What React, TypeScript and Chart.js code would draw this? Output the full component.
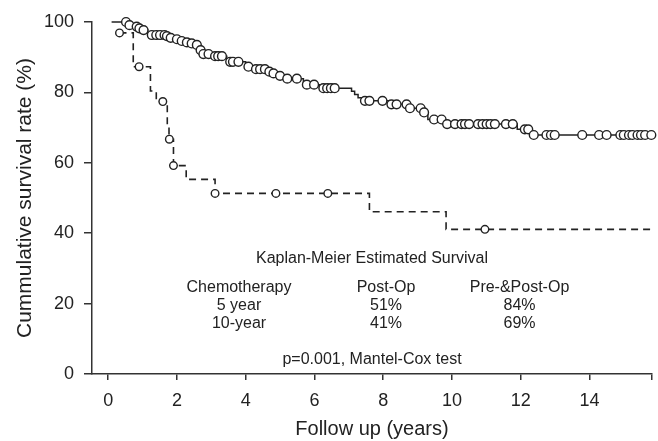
import React, { useEffect, useRef } from "react";
import { Chart, registerables } from "chart.js";

Chart.register(...registerables);

// Pre-&Post-Op chemotherapy (solid line): step times and survival after each step
const prePostStepTimes = [0.1, 0.58, 0.75, 0.88, 0.98, 1.15, 1.68, 1.78, 1.94, 2.1, 2.24, 2.38, 2.53, 2.64, 2.74, 3.05, 3.45, 4.0, 4.2, 4.63, 4.76, 4.93, 5.12, 5.68, 6.15, 7.08, 7.17, 7.27, 7.37, 8.15, 8.75, 9.14, 9.3, 9.8, 11.9, 12.3];
const prePostStepValues = [100, 99.1, 98.7, 98.2, 97.7, 96.3, 96.0, 95.5, 95.1, 94.6, 94.2, 93.9, 93.5, 92.0, 90.9, 90.3, 88.7, 87.3, 86.6, 85.9, 85.4, 84.7, 83.9, 82.2, 81.2, 80.3, 79.4, 78.5, 77.6, 76.6, 75.5, 74.3, 72.3, 71.0, 69.5, 67.9];
const prePostEnd = 15.8;
const prePostCensored = [0.52, 0.62, 0.83, 0.91, 1.03, 1.27, 1.4, 1.51, 1.64, 1.71, 1.82, 2.0, 2.14, 2.29, 2.43, 2.58, 2.69, 2.77, 2.92, 3.11, 3.2, 3.31, 3.55, 3.63, 3.79, 4.08, 4.3, 4.42, 4.56, 4.69, 4.81, 5.0, 5.21, 5.49, 5.78, 5.99, 6.26, 6.37, 6.48, 6.59, 7.47, 7.6, 7.98, 8.24, 8.39, 8.68, 8.78, 9.09, 9.19, 9.48, 9.7, 9.86, 10.09, 10.28, 10.38, 10.5, 10.76, 10.89, 11.01, 11.12, 11.25, 11.57, 11.77, 12.12, 12.22, 12.38, 12.75, 12.88, 12.99, 13.79, 14.28, 14.5, 14.9, 15.0, 15.15, 15.25, 15.4, 15.5, 15.62, 15.8];

// Post-Op chemotherapy (dashed line)
const postStepTimes = [0.33, 0.73, 1.23, 1.4, 1.72, 1.77, 1.9, 2.27, 3.11, 7.6, 9.83];
const postStepValues = [96.9, 87.3, 80.4, 77.4, 70.5, 66.7, 59.2, 55.3, 51.3, 46.1, 41.1];
const postEnd = 15.82;
const postCensored = [0.33, 0.9, 1.59, 1.78, 1.9, 3.11, 4.88, 6.39, 10.96];

// Axis ticks
const xTickValues = [0, 2, 4, 6, 8, 10, 12, 14, 15.82];
const xMin = -0.47;
const xMax = 15.82;
const yTickStep = 20;

// Annotation table
const annotationTitle = "Kaplan-Meier Estimated Survival";
const tableHeader = ["Chemotherapy", "Post-Op", "Pre-&Post-Op"];
const tableRows = [
  ["5 year", "51%", "84%"],
  ["10-year", "41%", "69%"],
];
const pValueText = "p=0.001, Mantel-Cox test";

function stepLine(times: number[], values: number[], end: number) {
  const pts = times.map((t, i) => ({ x: t, y: values[i] }));
  pts.push({ x: end, y: values[values.length - 1] });
  return pts;
}

function valueAt(times: number[], values: number[], t: number) {
  let v = values[0];
  for (let i = 0; i < times.length; i++) {
    if (times[i] <= t + 1e-9) v = values[i];
  }
  return v;
}

const FONT = "'Liberation Sans', Arial, Helvetica, sans-serif";
const INK = "#222";

const annotationPlugin = {
  id: "kmAnnotations",
  afterDraw(chart: any) {
    const { ctx } = chart;
    ctx.save();
    ctx.fillStyle = INK;
    ctx.font = `16px ${FONT}`;
    ctx.textAlign = "center";
    ctx.textBaseline = "alphabetic";
    const colX = [239, 386, 519.5];
    ctx.fillText(annotationTitle, 372, 262.5);
    tableHeader.forEach((h, i) => ctx.fillText(h, colX[i], 291.5));
    const rowY = [309.5, 327.5];
    tableRows.forEach((row, r) =>
      row.forEach((c, i) => ctx.fillText(c, colX[i], rowY[r]))
    );
    ctx.fillText(pValueText, 372, 363.5);
    ctx.restore();
  },
};

export default function App() {
  const ref = useRef<HTMLCanvasElement | null>(null);

  useEffect(() => {
    if (!ref.current) return;
    const chart = new Chart(ref.current, {
      type: "scatter",
      data: {
        datasets: [
          {
            label: "Pre-&Post-Op censored",
            data: prePostCensored.map((t) => ({ x: t, y: valueAt(prePostStepTimes, prePostStepValues, t) })),
            pointRadius: 4.4,
            pointBackgroundColor: "#fff",
            pointBorderColor: INK,
            pointBorderWidth: 1.4,
            showLine: false,
            clip: false,
          } as any,
          {
            label: "Post-Op censored",
            data: postCensored.map((t) => ({ x: t, y: valueAt(postStepTimes, postStepValues, t) })),
            pointRadius: 3.8,
            pointBackgroundColor: "#fff",
            pointBorderColor: INK,
            pointBorderWidth: 1.4,
            showLine: false,
            clip: false,
          } as any,
          {
            label: "Pre-&Post-Op",
            data: stepLine(prePostStepTimes, prePostStepValues, prePostEnd),
            showLine: true,
            stepped: true,
            borderColor: INK,
            borderWidth: 1.5,
            pointRadius: 0,
            clip: false,
          } as any,
          {
            label: "Post-Op",
            data: stepLine(postStepTimes, postStepValues, postEnd),
            showLine: true,
            stepped: true,
            borderColor: INK,
            borderWidth: 1.6,
            borderDash: [7, 5],
            pointRadius: 0,
            clip: false,
          } as any,
        ],
      },
      options: {
        animation: false,
        responsive: false,
        layout: { autoPadding: false, padding: { top: 22, right: 6, left: 0, bottom: 0 } },
        plugins: {
          legend: { display: false },
          tooltip: { enabled: false },
        },
        scales: {
          x: {
            type: "linear",
            min: xMin,
            max: xMax,
            afterBuildTicks: (scale: any) => {
              scale.ticks = xTickValues.map((v) => ({ value: v }));
            },
            afterFit: (scale: any) => {
              scale.height = 67;
            },
            ticks: {
              color: INK,
              font: { family: FONT, size: 18, lineHeight: 1.65 },
              padding: 6,
              autoSkip: false,
              maxRotation: 0,
              callback: (v: any) => (Number(v) > 15 ? "" : String(v)),
            },
            grid: {
              drawOnChartArea: false,
              drawTicks: true,
              tickLength: 6,
              color: "#333",
              lineWidth: 1.5,
            },
            border: { display: true, color: "#333", width: 1.5 },
            title: {
              display: true,
              text: "Follow up (years)",
              color: INK,
              font: { family: FONT, size: 20 },
              padding: { top: 0, bottom: 0 },
            },
          },
          y: {
            type: "linear",
            min: 0,
            max: 100,
            afterFit: (scale: any) => {
              scale.width = 92;
            },
            ticks: {
              stepSize: yTickStep,
              color: INK,
              font: { family: FONT, size: 18 },
              padding: 10,
            },
            grid: {
              drawOnChartArea: false,
              drawTicks: true,
              tickLength: 8,
              color: "#333",
              lineWidth: 1.5,
            },
            border: { display: true, color: "#333", width: 1.5 },
            title: {
              display: true,
              text: "Cummulative survival rate (%)",
              color: INK,
              font: { family: FONT, size: 21 },
              padding: { top: 13, bottom: 0 },
            },
          },
        },
      } as any,
      plugins: [annotationPlugin],
    });
    return () => chart.destroy();
  }, []);

  return (
    <div style={{ position: "fixed", left: 0, top: 0, width: 658, height: 441, background: "#fff" }}>
      <canvas ref={ref} width={658} height={441} style={{ display: "block" }} />
    </div>
  );
}
